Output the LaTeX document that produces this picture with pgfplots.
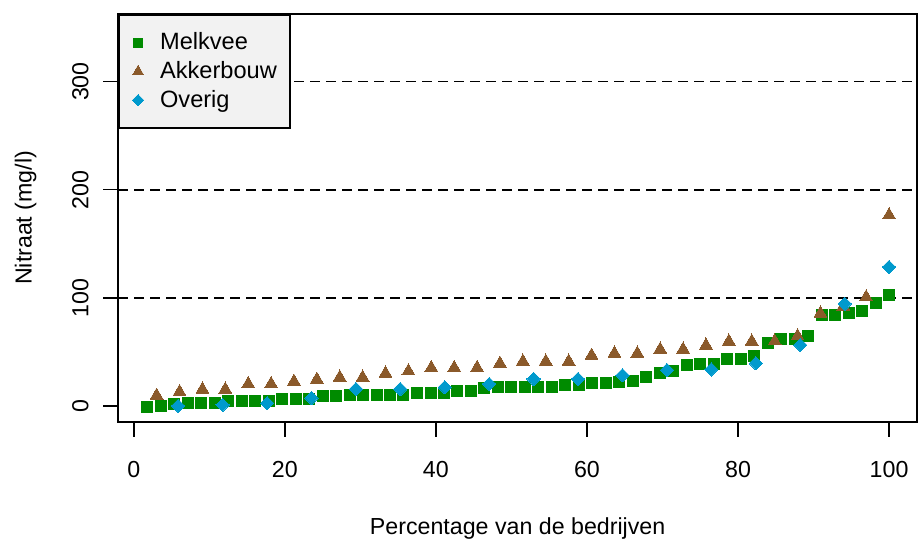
\documentclass[border=0pt]{standalone}
\usepackage{fontspec}
\setmainfont{Liberation Sans}
\usepackage{pgfplots}
\pgfplotsset{compat=1.18}
\definecolor{mgreen}{HTML}{008B00}
\definecolor{mbrown}{HTML}{8B5A2B}
\definecolor{mblue}{HTML}{009ACD}
\definecolor{legfill}{HTML}{F2F2F2}

\pgfplotstableread{
x y
1.79 -0.7
3.57 0.2
5.36 1.7
7.14 2.4
8.93 2.4
10.71 2.7
12.50 5.0
14.29 5.0
16.07 5.0
17.86 5.0
19.64 6.5
21.43 6.5
23.21 6.5
25.00 8.9
26.79 8.9
28.57 10.1
30.36 10.1
32.14 10.1
33.93 10.1
35.71 10.1
37.50 12.4
39.29 12.4
41.07 12.4
42.86 13.8
44.64 13.8
46.43 16.6
48.21 17.2
50.00 17.2
51.79 17.2
53.57 17.2
55.36 17.5
57.14 19.6
58.93 19.6
60.71 21.2
62.50 21.2
64.29 22.2
66.07 23.3
67.86 26.3
69.64 30.9
71.43 32.1
73.21 37.4
75.00 39.2
76.79 39.2
78.57 43.2
80.36 43.2
82.14 45.9
83.93 58.3
85.71 61.7
87.50 61.7
89.29 65.1
91.07 84.2
92.86 84.2
94.64 85.5
96.43 88.0
98.21 95.2
100.00 102.8
}\melkvee

\pgfplotstableread{
x y
3.03 9.7
6.06 13.0
9.09 15.3
12.12 15.3
15.15 20.4
18.18 20.4
21.21 22.6
24.24 24.5
27.27 26.4
30.30 26.4
33.33 30.1
36.36 32.2
39.39 35.3
42.42 35.3
45.45 35.3
48.48 39.3
51.52 41.2
54.55 41.2
57.58 41.2
60.61 46.7
63.64 48.6
66.67 48.6
69.70 52.3
72.73 52.3
75.76 56.0
78.79 59.7
81.82 59.7
84.85 59.9
87.88 64.6
90.91 85.6
93.94 92.0
96.97 100.6
100.00 176.5
}\akkerbouw

\pgfplotstableread{
x y
5.88 0.0
11.76 1.0
17.65 2.5
23.53 7.3
29.41 15.6
35.29 15.6
41.18 17.2
47.06 20.3
52.94 24.9
58.82 24.9
64.71 28.3
70.59 33.2
76.47 33.8
82.35 39.4
88.24 56.3
94.12 94.5
100.00 128.5
}\overig

\begin{document}
\begin{tikzpicture}
\path[use as bounding box] (-59.15pt,-59.15pt) rectangle (400.35pt,210.85pt);
\begin{axis}[
  scale only axis,
  width=399.35pt, height=203.85pt,
  xmin=-2.05, xmax=103.7, ymin=-14.6, ymax=362.5,
  xtick={0,20,40,60,80,100}, ytick={0,100,200,300},
  xtick pos=lower, ytick pos=left,
  tick align=outside, major tick length=7.5pt,
  axis line style={line width=0.8pt},
  every tick/.style={black, line width=0.8pt},
  tick label style={font=\fontsize{11.6}{13}\selectfont},
  /pgf/number format/assume math mode=true,
  yticklabel style={rotate=90, anchor=base},
  yticklabel shift=7.5pt,
  xticklabel style={anchor=base},
  xticklabel shift=20.3pt,
  xlabel={Percentage van de bedrijven},
  ylabel={Nitraat (mg/l)},
  label style={font=\fontsize{11.6}{13}\selectfont},
  xlabel style={at={([yshift=-56.3pt]axis description cs:0.5,0)}, anchor=base},
  ylabel style={at={([xshift=-43.3pt]axis description cs:0,0.5)}, anchor=base},
  legend style={at={(0,1)}, anchor=north west, draw=black, line width=0.8pt,
    fill=legfill, font=\fontsize{11.8}{13}\selectfont,
    inner xsep=4.5pt, inner ysep=7pt, row sep=0.3pt,
    cells={anchor=west}},
  legend image code/.code={\path[draw=none,fill=none] (0pt,0pt) -- (14pt,0pt); \draw[#1, every mark/.append style={scale=0.85}] plot coordinates {(5pt,0pt)};},
]
\draw[black, line width=0.9pt, dash pattern=on 5pt off 3pt] (axis cs:-2.05,100) -- (axis cs:103.7,100);
\draw[black, line width=0.9pt, dash pattern=on 5pt off 3pt] (axis cs:-2.05,200) -- (axis cs:103.7,200);
\draw[black, line width=0.9pt, dash pattern=on 5pt off 3pt] (axis cs:-2.05,300) -- (axis cs:103.7,300);
\draw[black, line width=0.8pt] ([yshift=-1.2pt]axis cs:0,-14.6) -- ([yshift=-1.2pt]axis cs:100,-14.6);
\addplot[only marks, mark=square*, mark size=2.75pt, mgreen, mark options={draw=mgreen, fill=mgreen, line width=0pt}] table {\melkvee};
\addlegendentry{Melkvee}
\addplot[only marks, mark=triangle*, mark size=3.7pt, mbrown, mark options={draw=mbrown, fill=mbrown, line width=0pt}] table {\akkerbouw};
\addlegendentry{Akkerbouw\hspace{2pt}}
\addplot[only marks, mark=square*, mark size=2.35pt, mblue, mark options={draw=mblue, fill=mblue, line width=0pt, rotate=45}] table {\overig};
\addlegendentry{Overig}
\end{axis}
\end{tikzpicture}
\end{document}
